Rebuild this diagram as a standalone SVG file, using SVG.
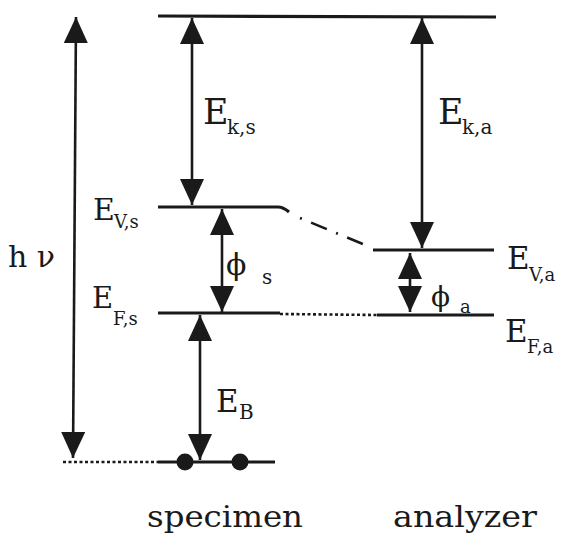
<svg xmlns="http://www.w3.org/2000/svg" width="566" height="536" viewBox="0 0 566 536">
<style>
.lvl{stroke:#1a1a1a;stroke-width:3.2;fill:none}
.arr{stroke:#1a1a1a;stroke-width:2.6;fill:none;marker-start:url(#ah);marker-end:url(#ah)}
.dot{stroke:#1a1a1a;stroke-width:2.6;fill:none;stroke-dasharray:3 2.5}
.t{font-family:"DejaVu Serif","Liberation Serif",serif;fill:#1a1a1a}
</style>
<defs>
<marker id="ah" viewBox="0 0 26 24" refX="26" refY="12" markerWidth="26" markerHeight="24" markerUnits="userSpaceOnUse" orient="auto-start-reverse">
<path d="M0,0 L26,12 L0,24 z" fill="#1a1a1a"/>
</marker>
</defs>
<g id="levels">
<line class="lvl" x1="158" y1="16" x2="496" y2="17"/>
<path class="lvl" d="M158,207 L278,207 Q283,207 289,212"/>
<line class="lvl" x1="373" y1="250" x2="494" y2="250"/>
<line class="lvl" x1="158" y1="313" x2="280" y2="313"/>
<line class="lvl" x1="377" y1="315" x2="494" y2="315"/>
<line class="lvl" x1="158" y1="462" x2="275" y2="462"/>
<circle cx="185" cy="462" r="8.5" fill="#1a1a1a"/>
<circle cx="240" cy="462" r="8.5" fill="#1a1a1a"/>
</g>
<g id="connectors">
<line class="arr" x1="76" y1="17" x2="73" y2="458"/>
<line class="arr" x1="192" y1="18" x2="192" y2="205"/>
<line class="arr" x1="422" y1="18" x2="422" y2="248"/>
<line class="arr" x1="222" y1="209" x2="222" y2="312"/>
<line class="arr" x1="410" y1="253" x2="410" y2="312"/>
<line class="arr" x1="200" y1="315" x2="200" y2="460"/>
<path d="M300,218 L370,247" stroke="#1a1a1a" stroke-width="2.6" fill="none" stroke-dasharray="2 10 17 10"/>
<line class="dot" x1="280" y1="314" x2="377" y2="315"/>
<line class="dot" x1="63" y1="462" x2="158" y2="462"/>
</g>
<g id="labels">
<text class="t" x="8" y="267" font-size="30">h ν</text>
<text class="t" x="203" y="124" font-size="35">E</text><text class="t" x="227" y="134" font-size="20">k,s</text>
<text class="t" x="438" y="124" font-size="35">E</text><text class="t" x="462" y="134" font-size="20">k,a</text>
<text class="t" x="93" y="220" font-size="30">E</text><text class="t" x="114" y="228" font-size="18">V,s</text>
<text class="t" x="92" y="308" font-size="29">E</text><text class="t" x="113" y="325" font-size="18">F,s</text>
<text class="t" x="507" y="269" font-size="31">E</text><text class="t" x="529" y="281" font-size="18">V,a</text>
<text class="t" x="505" y="342" font-size="31">E</text><text class="t" x="527" y="353" font-size="18">F,a</text>
<text class="t" x="216" y="412" font-size="31">E</text><text class="t" x="239" y="419" font-size="20">B</text>
<text class="t" x="226" y="275" font-size="30">ϕ</text><text class="t" x="262" y="284" font-size="20">s</text>
<text class="t" x="431" y="306" font-size="28">ϕ</text><text class="t" x="460" y="313" font-size="18">a</text>
<text class="t" x="147" y="527" font-size="29" textLength="156" lengthAdjust="spacingAndGlyphs">specimen</text>
<text class="t" x="393" y="527" font-size="29" textLength="144" lengthAdjust="spacingAndGlyphs">analyzer</text>
</g>
</svg>
